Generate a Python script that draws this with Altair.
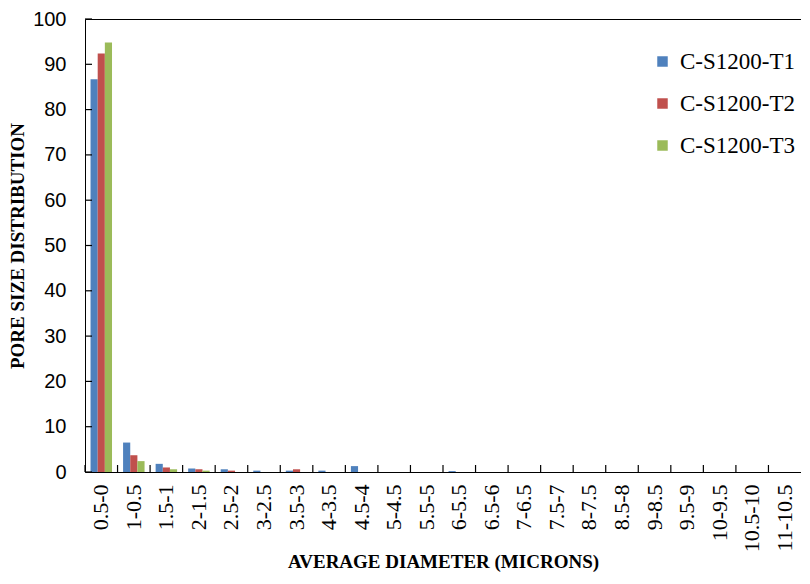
import altair as alt
import pandas as pd

categories = ["0.5-0", "1-0.5", "1.5-1", "2-1.5", "2.5-2", "3-2.5", "3.5-3", "4-3.5",
              "4.5-4", "5-4.5", "5.5-5", "6-5.5", "6.5-6", "7-6.5", "7.5-7", "8-7.5",
              "8.5-8", "9-8.5", "9.5-9", "10-9.5", "10.5-10", "11-10.5"]
series = ["C-S1200-T1", "C-S1200-T2", "C-S1200-T3"]
t1 = [86.7, 6.5, 1.8, 0.8, 0.6, 0.3, 0.3, 0.3, 1.3, 0, 0, 0.2, 0, 0, 0, 0, 0, 0, 0, 0, 0, 0]
t2 = [92.4, 3.7, 1.0, 0.6, 0.3, 0, 0.6, 0, 0, 0, 0, 0, 0, 0, 0, 0, 0, 0, 0, 0, 0, 0]
t3 = [94.8, 2.4, 0.6, 0.3, 0, 0, 0, 0, 0, 0, 0, 0, 0, 0, 0, 0, 0, 0, 0, 0, 0, 0]
y_ticks = [0, 10, 20, 30, 40, 50, 60, 70, 80, 90, 100]
colors = ["#4F81BD", "#C0504D", "#9BBB59"]

rows = []
for name, vals in zip(series, [t1, t2, t3]):
    for c, v in zip(categories, vals):
        rows.append({"diameter": c, "series": name, "value": v})
df = pd.DataFrame(rows)
xticks_df = pd.DataFrame({"diameter": categories})
yticks_df = pd.DataFrame({"value": y_ticks})

W, H = 716, 453

yscale = alt.Scale(domain=[0, 100], nice=False)

bars = alt.Chart(df).mark_bar().encode(
    x=alt.X("diameter:N", sort=categories,
            scale=alt.Scale(domain=categories, paddingInner=0.34, paddingOuter=0.17),
            axis=alt.Axis(title="AVERAGE DIAMETER (MICRONS)", labelAngle=-90,
                          labelFont="Liberation Serif", labelFontSize=22,
                          labelColor="black", ticks=False, domainColor="black",
                          labelPadding=12, titleFont="Liberation Serif",
                          titleFontSize=19, titleFontWeight="bold",
                          titleColor="black", titlePadding=1)),
    xOffset=alt.XOffset("series:N", sort=series),
    y=alt.Y("value:Q", scale=yscale,
            axis=alt.Axis(title="PORE SIZE DISTRIBUTION", values=y_ticks,
                          grid=False, labelFont="Liberation Sans", labelFontSize=20,
                          labelColor="black", ticks=False, labelPadding=19,
                          domainColor="black", titleFont="Liberation Serif",
                          titleFontSize=19, titleFontWeight="bold",
                          titleColor="black", titlePadding=5)),
    color=alt.Color("series:N", sort=series,
                    scale=alt.Scale(domain=series, range=colors),
                    legend=alt.Legend(title=None, orient="none", legendX=566, legendY=31,
                                      symbolType="square", symbolSize=110,
                                      symbolStrokeWidth=0, labelFont="Liberation Serif",
                                      labelFontSize=23, labelColor="black",
                                      rowPadding=18, labelOffset=6)),
)

xticks = alt.Chart(xticks_df).mark_rule(color="black", strokeWidth=1.2).encode(
    x=alt.X("diameter:N", sort=categories, bandPosition=0,
            scale=alt.Scale(domain=categories, paddingInner=0, paddingOuter=0),
            axis=alt.Axis(orient="top", labels=False, ticks=False, title=None,
                          domainColor="black", grid=False)),
    y=alt.value(H - 7),
    y2=alt.value(H),
)

yticks = alt.Chart(yticks_df).mark_rule(color="black", strokeWidth=1.2).encode(
    y=alt.Y("value:Q", scale=yscale),
    x=alt.value(0),
    x2=alt.value(7),
)

chart = alt.layer(bars, xticks, yticks).resolve_scale(x="independent").properties(
    width=W, height=H, padding={"left": 0, "top": 1, "right": 0, "bottom": 0}
).configure_view(stroke=None).configure(background="white")

chart.save("out.html", embed_options={"renderer": "svg", "actions": False})
